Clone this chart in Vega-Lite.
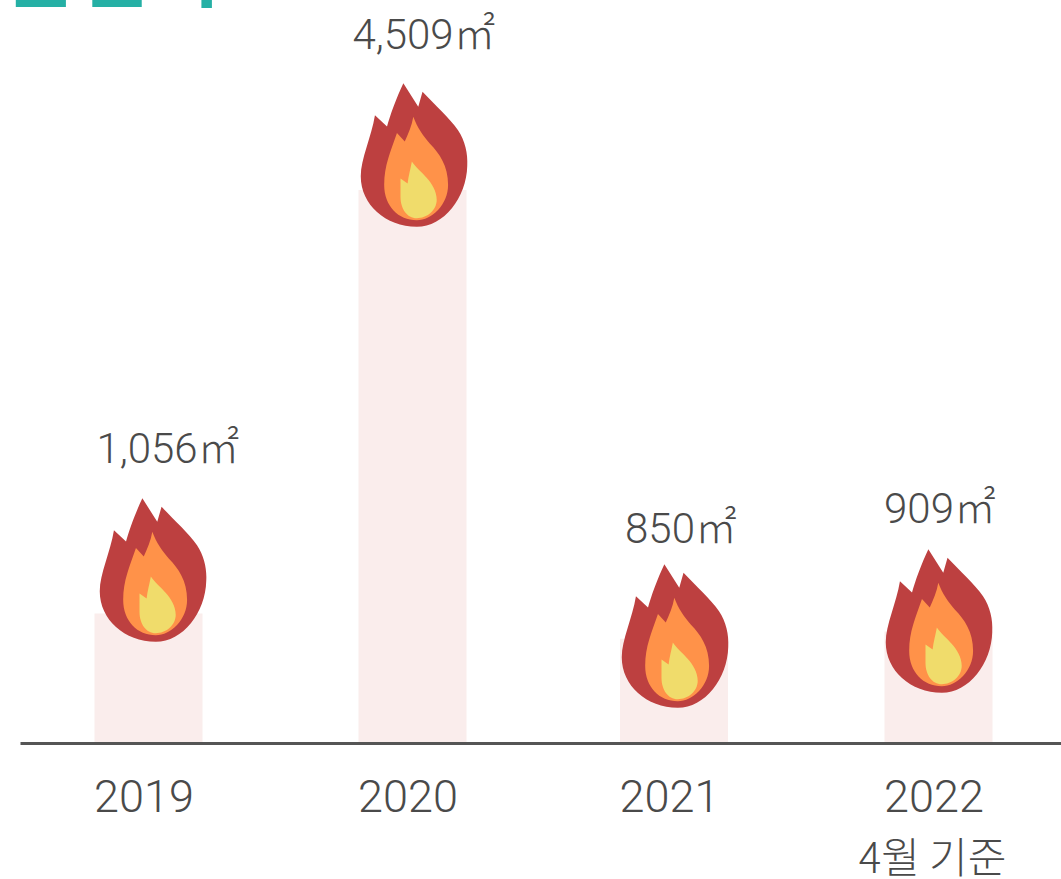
{
"$schema":"https://vega.github.io/schema/vega-lite/v6.json",
"width":1061,"height":743,
"autosize":{"type":"none"},
"padding":{"left":0,"top":0,"right":0,"bottom":136},
"background":"white",
"view":{"stroke":null},
"data":{"values":[
{"year":2019,"area":1056,"label":"1,056㎡","note":""},
{"year":2020,"area":4509,"label":"4,509㎡","note":""},
{"year":2021,"area":850,"label":"850㎡","note":""},
{"year":2022,"area":909,"label":"909㎡","note":"4월 기준"}
]},
"resolve":{"scale":{"x":"independent","y":"independent"}},
"layer":[
{"mark":{"type":"bar","orient":"vertical","size":108,"color":"#FAEDEC"},
 "encoding":{
  "x":{"field":"year","type":"quantitative","scale":{"domain":[2018.51,2019,2020,2021,2022,2022.47],"range":[20,148.5,412.5,674,938.5,1061],"nice":false,"zero":false},
   "axis":{"values":[2019,2020,2021,2022],"format":"d","title":null,"grid":false,"ticks":false,"domainColor":"#555555","domainWidth":3,"labelColor":"#4a4a4a","labelFont":"Roboto","labelFontWeight":300,"labelFontSize":45,"labelPadding":32,"labelOffset":-5,"zindex":1,"labelOverlap":false,"labelFlush":false}},
  "y":{"field":"area","type":"quantitative","stack":null,"scale":{"domain":[0,4509],"range":[743,190],"nice":false},"axis":null}
 }},
{"data":{"values":[{"heading":"훼손면적","hx":2018.178,"hy":6050}]},
 "mark":{"type":"text","font":"Noto Sans CJK KR","fontWeight":"bold","fontSize":78,"color":"#25B0A5","align":"left","baseline":"alphabetic"},
 "encoding":{
  "x":{"field":"hx","type":"quantitative","scale":{"domain":[2018.51,2019,2020,2021,2022,2022.47],"range":[20,148.5,412.5,674,938.5,1061],"nice":false,"zero":false},"axis":null},
  "y":{"field":"hy","type":"quantitative","scale":{"domain":[0,4509],"range":[743,190],"nice":false},"axis":null},
  "text":{"field":"heading"}
 }},
{"mark":{"type":"text","font":"Noto Sans CJK KR","fontWeight":300,"fontSize":42,"color":"#4a4a4a","baseline":"alphabetic","dy":130,"dx":-6},
 "encoding":{
  "x":{"field":"year","type":"quantitative","scale":{"domain":[2018.51,2019,2020,2021,2022,2022.47],"range":[20,148.5,412.5,674,938.5,1061],"nice":false,"zero":false},"axis":null},
  "y":{"datum":0,"scale":{"domain":[0,4509],"range":[743,190],"nice":false},"axis":null},
  "text":{"field":"note"}
 }},
{"mark":{"type":"point","filled":true,"opacity":1,"size":20164,"color":"#BD4040","shape":"M-.15 -1.01 L.06 -.68 L.12 -.89 C.3 -.7 .5 -.52 .62 -.35 C.72 -.2 .76 -.02 .75 .15 C.74 .6 .42 1.01 .04 1.01 C-.4 1.01 -.75 .7 -.75 .3 C-.75 .05 -.6 -.25 -.55 -.56 L-.38 -.40 C-.34 -.55 -.25 -.8 -.15 -1.01Z"},
 "encoding":{
  "x":{"field":"year","type":"quantitative","scale":{"domain":[2019,2020,2021,2022],"range":[153,414,675,939],"nice":false,"zero":false},"axis":null},
  "y":{"field":"area","type":"quantitative","scale":{"domain":[850,909,1056,4509],"range":[636,621,570,155],"nice":false,"zero":false},"axis":null}
 }},
{"mark":{"type":"point","filled":true,"opacity":1,"size":20164,"color":"#FF9249","shape":"M-.01 -.54 C.05 -.38 .13 -.27 .225 -.16 C.36 -.02 .48 .15 .48 .42 C.48 .7 .25 .92 .04 .92 C-.22 .92 -.42 .72 -.42 .42 C-.42 .15 -.33 -.05 -.24 -.31 L-.13 -.19 C-.08 -.3 -.03 -.42 -.01 -.54Z"},
 "encoding":{
  "x":{"field":"year","type":"quantitative","scale":{"domain":[2019,2020,2021,2022],"range":[153,414,675,939],"nice":false,"zero":false},"axis":null},
  "y":{"field":"area","type":"quantitative","scale":{"domain":[850,909,1056,4509],"range":[636,621,570,155],"nice":false,"zero":false},"axis":null}
 }},
{"mark":{"type":"point","filled":true,"opacity":1,"size":20164,"color":"#F0DC6B","shape":"M-.03 .09 C.05 .22 .32 .38 .32 .63 C.32 .78 .18 .89 .04 .89 C-.1 .89 -.19 .75 -.19 .59 L-.19 .33 L-.09 .40 C-.08 .3 -.05 .2 -.03 .09Z"},
 "encoding":{
  "x":{"field":"year","type":"quantitative","scale":{"domain":[2019,2020,2021,2022],"range":[153,414,675,939],"nice":false,"zero":false},"axis":null},
  "y":{"field":"area","type":"quantitative","scale":{"domain":[850,909,1056,4509],"range":[636,621,570,155],"nice":false,"zero":false},"axis":null}
 }},
{"mark":{"type":"text","font":"Roboto, Noto Sans CJK KR","fontWeight":300,"fontSize":42,"color":"#4a4a4a","baseline":"middle"},
 "encoding":{
  "x":{"field":"year","type":"quantitative","scale":{"domain":[2019,2020,2021,2022],"range":[168,424,681,940],"nice":false,"zero":false},"axis":null},
  "y":{"field":"area","type":"quantitative","scale":{"domain":[850,909,1056,4509],"range":[530,510,450,36],"nice":false,"zero":false},"axis":null},
  "text":{"field":"label"}
 }}
]
}
